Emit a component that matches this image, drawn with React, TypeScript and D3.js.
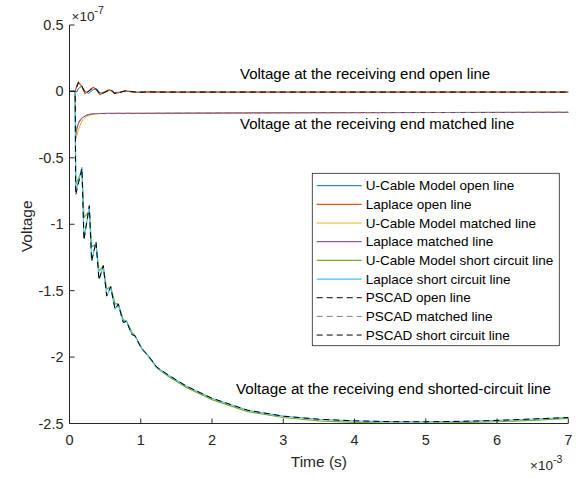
import React from "react";
import * as d3 from "d3";

// time in ms (axis shows ×10^-3 s), voltage in ×10^-7
const openTime = [0, 0.08, 0.1, 0.124, 0.17, 0.218, 0.27, 0.334, 0.38, 0.428, 0.49, 0.559, 0.6, 0.629, 0.7, 0.779, 0.85, 0.95, 1.1, 1.3, 1.6, 2, 3, 4, 5, 6, 7];
const openUCable = [0, 0, -0.005, 0.02, 0.04, 0.0, -0.015, 0.015, 0.02, -0.012, -0.01, 0.008, 0.005, -0.01, -0.006, 0.003, 0, -0.005, -0.003, -0.004, -0.004, -0.004, -0.004, -0.004, -0.004, -0.004, -0.004];
const openLaplace = [0, 0, 0.04, 0.07, 0.04, -0.017, 0.005, 0.032, 0.01, -0.025, -0.005, 0.013, 0.0, -0.017, -0.008, 0.005, -0.002, -0.008, -0.003, -0.006, -0.005, -0.005, -0.005, -0.005, -0.005, -0.005, -0.005];
const openPSCAD = [0, 0, 0.03, 0.065, 0.045, -0.012, 0.0, 0.03, 0.015, -0.022, -0.008, 0.012, 0.004, -0.015, -0.01, 0.004, 0, -0.007, -0.004, -0.005, -0.005, -0.005, -0.005, -0.005, -0.005, -0.005, -0.005];

const matchedTime = [0, 0.08, 0.087, 0.1, 0.124, 0.16, 0.194, 0.24, 0.288, 0.35, 0.45, 0.6, 0.8, 1, 1.5, 2, 3, 4, 5, 6, 7];
const matchedUCable = [0, 0, -0.36, -0.34, -0.29, -0.24, -0.21, -0.19, -0.178, -0.17, -0.167, -0.166, -0.165, -0.165, -0.164, -0.163, -0.161, -0.16, -0.159, -0.158, -0.157];
const matchedLaplace = [0, 0, -0.33, -0.29, -0.243, -0.21, -0.193, -0.18, -0.172, -0.168, -0.166, -0.165, -0.165, -0.165, -0.164, -0.163, -0.161, -0.16, -0.159, -0.158, -0.157];
const matchedPSCAD = [0, 0, -0.32, -0.28, -0.235, -0.205, -0.19, -0.178, -0.171, -0.167, -0.165, -0.165, -0.165, -0.165, -0.164, -0.163, -0.161, -0.16, -0.159, -0.158, -0.157];

const shortTime = [0, 0.08, 0.087, 0.175, 0.203, 0.278, 0.311, 0.372, 0.414, 0.474, 0.522, 0.578, 0.639, 0.685, 0.755, 0.8, 0.873, 0.92, 1.013, 1.1, 1.224, 1.4, 1.645, 2.0, 2.5, 3.0, 3.5, 4.0, 4.5, 5.0, 5.5, 6.0, 6.5, 7.0];
const shortUCable = [0, 0, -0.7, -0.6, -0.95, -0.9, -1.17, -1.15, -1.35, -1.32, -1.49, -1.47, -1.6, -1.6, -1.72, -1.73, -1.81, -1.84, -1.93, -1.99, -2.08, -2.15, -2.23, -2.32, -2.41, -2.455, -2.48, -2.492, -2.497, -2.497, -2.494, -2.487, -2.476, -2.462];
const shortLaplace = [0, 0, -0.758, -0.57, -1.107, -0.873, -1.273, -1.142, -1.41, -1.318, -1.536, -1.478, -1.636, -1.611, -1.737, -1.73, -1.825, -1.84, -1.937, -1.985, -2.076, -2.14, -2.22, -2.31, -2.4, -2.445, -2.468, -2.48, -2.486, -2.487, -2.484, -2.477, -2.466, -2.455];
const shortPSCAD = [0, 0, -0.78, -0.58, -1.12, -0.86, -1.28, -1.13, -1.42, -1.31, -1.54, -1.47, -1.64, -1.6, -1.74, -1.73, -1.83, -1.84, -1.94, -1.985, -2.075, -2.14, -2.22, -2.31, -2.4, -2.445, -2.468, -2.48, -2.486, -2.487, -2.484, -2.477, -2.466, -2.455];

const xTicks = [0, 1, 2, 3, 4, 5, 6, 7];
const yTicks = [0.5, 0, -0.5, -1, -1.5, -2, -2.5];
const yTickLabels = ["0.5", "0", "-0.5", "-1", "-1.5", "-2", "-2.5"];

const legendLabels = [
  "U-Cable Model open line",
  "Laplace open line",
  "U-Cable Model matched line",
  "Laplace matched line",
  "U-Cable Model short circuit line",
  "Laplace short circuit line",
  "PSCAD open line",
  "PSCAD matched line",
  "PSCAD short circuit line",
];

const FONT = "'Liberation Sans', Arial, Helvetica, sans-serif";

export default function App() {
  const left = 69.5, right = 568.3, top = 25, bottom = 423.5;
  const x = d3.scaleLinear().domain([0, 7]).range([left, right]);
  const y = d3.scaleLinear().domain([-2.5, 0.5]).range([bottom, top]);
  const line = (t: number[], v: number[]) =>
    d3.line<number>().x((_, i) => x(t[i])).y((d) => y(d))(v) || "";

  const series = [
    { t: openTime, v: openUCable, color: "#0072BD", dash: "", w: 1 },
    { t: openTime, v: openLaplace, color: "#D95319", dash: "", w: 1.2 },
    { t: matchedTime, v: matchedUCable, color: "#EDB120", dash: "", w: 1 },
    { t: matchedTime, v: matchedLaplace, color: "#7E2F8E", dash: "", w: 1 },
    { t: shortTime, v: shortUCable, color: "#77AC30", dash: "", w: 1.2 },
    { t: shortTime, v: shortLaplace, color: "#4DBEEE", dash: "", w: 1.2 },
    { t: openTime, v: openPSCAD, color: "#000000", dash: "6,4", w: 1 },
    { t: matchedTime, v: matchedPSCAD, color: "#808080", dash: "6,4", w: 1 },
    { t: shortTime, v: shortPSCAD, color: "#000000", dash: "6,4", w: 1 },
  ];

  const legX = 312.3, legY = 173.3, legW = 247, legH = 172.4;
  const rowH = 18.67;

  return (
    <svg width={581} height={477} style={{ position: "absolute", left: 0, top: 0, background: "#fff" }} fontFamily={FONT}>
      <rect x={0} y={0} width={581} height={477} fill="#fff" />
      {series.map((s, i) => (
        <path key={i} d={line(s.t, s.v)} fill="none" stroke={s.color} strokeWidth={s.w} strokeDasharray={s.dash || undefined} />
      ))}
      {/* axes */}
      <line x1={left} x2={left} y1={top} y2={bottom} stroke="#262626" strokeWidth={1} />
      <line x1={left} x2={right} y1={bottom} y2={bottom} stroke="#262626" strokeWidth={1} />
      {yTicks.map((v, i) => (
        <g key={"y" + i}>
          <line x1={left} x2={left + 5} y1={y(v)} y2={y(v)} stroke="#262626" />
          <text x={left - 6} y={y(v)} dy="0.35em" textAnchor="end" fontSize={14.5} fill="#262626">{yTickLabels[i]}</text>
        </g>
      ))}
      {xTicks.map((v) => (
        <g key={"x" + v}>
          <line x1={x(v)} x2={x(v)} y1={bottom} y2={bottom - 5} stroke="#262626" />
          <text x={x(v)} y={445} textAnchor="middle" fontSize={14.5} fill="#262626">{v}</text>
        </g>
      ))}
      <text x={(left + right) / 2} y={467} textAnchor="middle" fontSize={15.5} fill="#262626">Time (s)</text>
      <text x={530} y={470} fontSize={13.5} fill="#262626">×10<tspan dy={-7} fontSize={10.5}>-3</tspan></text>
      <text x={71.5} y={21} fontSize={13.5} fill="#262626">×10<tspan dy={-7} fontSize={10.5}>-7</tspan></text>
      <text transform={`translate(32,${(top + bottom) / 2 + 2}) rotate(-90)`} textAnchor="middle" fontSize={15.5} fill="#262626">Voltage</text>

      {/* annotations */}
      <text x={240} y={78.5} fontSize={15} fill="#000">Voltage at the receiving end open line</text>
      <text x={240} y={129} fontSize={15} fill="#000">Voltage at the receiving end matched line</text>
      <text x={236} y={394} fontSize={15.2} fill="#000">Voltage at the receiving end shorted-circuit line</text>

      {/* legend */}
      <rect x={legX} y={legY} width={legW} height={legH} fill="#fff" stroke="#262626" strokeWidth={0.8} />
      {legendLabels.map((lab, i) => {
        const cy = legY + 12.4 + i * rowH;
        const s = series[i];
        return (
          <g key={lab}>
            <line x1={316.7} x2={361.7} y1={cy} y2={cy} stroke={s.color} strokeWidth={s.w} strokeDasharray={s.dash || undefined} />
            <text x={365.7} y={cy} dy="0.35em" fontSize={13.5} fill="#000">{lab}</text>
          </g>
        );
      })}
    </svg>
  );
}
